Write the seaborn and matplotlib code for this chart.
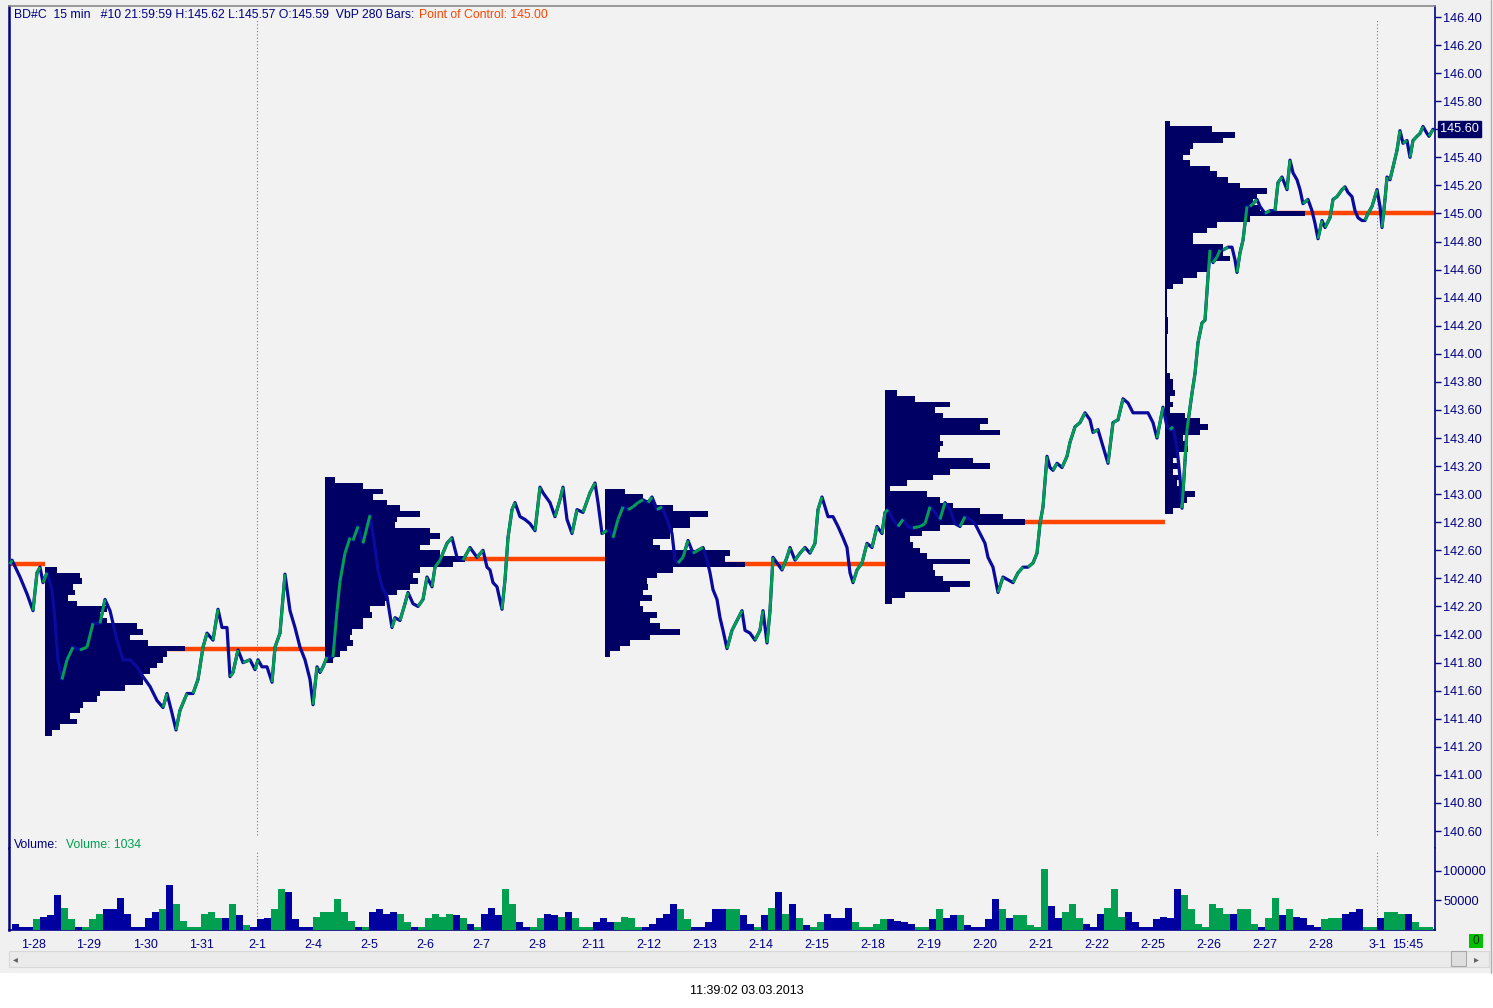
import numpy as np
import matplotlib
matplotlib.use("Agg")
import matplotlib.pyplot as plt
import seaborn as sns
from matplotlib.collections import LineCollection
from matplotlib.patches import Rectangle
import matplotlib.transforms as mtransforms

# ---------------- data ----------------
# time in 15-minute bars since 1-28 session start (56 bars per trading day)
bar_time = [-23,-21,-13,-6,0,4,7,10,14,19,22,25,29,34,40,47,54,60,67,72,77,84,90,97,104,110,117,124,130,134,139,143,147,154,160,165,170,174,180,185,189,194,197,200,205,210,217,222,225,229,234,239,242,247,252,257,262,267,272,277,280,284,287,290,294,300,304,307,312,317,320,325,330,337,342,345,349,354,359,362,367,372,375,380,385,390,394,399,402,407,414,419,424,430,437,444,450,454,457,460,464,469,472,475,479,482,487,492,497,502,507,510,517,522,527,530,534,539,544,550,557,562,565,569,574,577,580,585,590,595,600,605,610,615,619,624,629,634,639,642,645,650,655,660,665,670,674,677,680,684,687,690,694,699,704,709,712,717,722,727,730,734,737,740,744,749,754,757,762,767,772,777,782,785,789,792,795,800,805,810,814,817,820,824,829,834,839,844,849,852,855,860,865,870,875,880,887,892,897,902,907,912,917,922,927,932,937,942,947,952,955,960,965,970,975,980,985,990,995,1000,1004,1007,1010,1014,1017,1020,1024,1029,1034,1037,1042,1047,1052,1057,1060,1065,1070,1075,1080,1085,1090,1095,1100,1105,1110,1115,1120,1124,1130,1134,1137,1140,1144,1147,1149,1152,1154,1159,1162,1165,1169,1172,1175,1177,1180,1184,1187,1190,1195,1199,1202,1204,1207,1210,1214,1217,1220,1224,1227,1232,1237,1242,1245,1249,1254,1257,1260,1264,1267,1270,1275,1279,1282,1285,1289,1292,1297,1300,1304,1309,1312,1315,1319,1322,1325,1329,1332,1335,1339,1342,1344,1347,1349,1352,1354,1357,1360,1364,1367,1370,1374,1377,1380,1384,1387,1390,1394,1396,1400]
price = [142.50,142.53,142.41,142.29,142.17,142.44,142.48,142.37,142.44,142.32,142.10,141.82,141.68,141.82,141.91,141.89,141.91,142.08,142.08,142.25,142.17,141.96,141.82,141.82,141.77,141.70,141.63,141.53,141.48,141.58,141.44,141.32,141.46,141.58,141.58,141.68,141.91,142.01,141.96,142.18,142.05,142.05,141.70,141.73,141.89,141.80,141.82,141.75,141.82,141.77,141.77,141.66,141.91,142.01,142.43,142.17,142.05,141.91,141.82,141.68,141.50,141.77,141.73,141.77,141.84,141.84,142.17,142.38,142.58,142.69,142.67,142.77,142.65,142.85,142.62,142.46,142.34,142.27,142.05,142.12,142.10,142.22,142.30,142.22,142.20,142.25,142.41,142.34,142.48,142.53,142.65,142.69,142.55,142.53,142.62,142.55,142.60,142.48,142.46,142.37,142.34,142.18,142.39,142.69,142.89,142.94,142.84,142.82,142.79,142.74,143.05,143.01,142.94,142.84,142.96,143.05,142.82,142.72,142.89,142.87,143.01,143.08,142.94,142.72,142.74,142.74,142.69,142.82,142.91,142.89,142.91,142.94,142.96,142.94,142.98,142.89,142.91,142.82,142.72,142.53,142.51,142.55,142.67,142.58,142.60,142.62,142.53,142.44,142.32,142.25,142.12,142.03,141.90,142.03,142.10,142.17,142.03,142.01,141.96,142.03,142.17,141.94,142.17,142.55,142.51,142.46,142.55,142.62,142.53,142.58,142.62,142.58,142.65,142.89,142.98,142.91,142.84,142.84,142.77,142.69,142.62,142.44,142.37,142.46,142.51,142.65,142.62,142.77,142.72,142.87,142.89,142.82,142.77,142.82,142.77,142.76,142.77,142.79,142.91,142.87,142.82,142.94,142.89,142.79,142.77,142.84,142.82,142.79,142.72,142.65,142.55,142.48,142.30,142.41,142.39,142.37,142.44,142.48,142.48,142.51,142.58,142.79,142.91,143.27,143.19,143.17,143.22,143.19,143.27,143.37,143.48,143.51,143.58,143.53,143.44,143.46,143.34,143.22,143.51,143.53,143.68,143.65,143.58,143.58,143.58,143.58,143.51,143.40,143.62,143.48,143.46,143.48,143.33,143.12,142.90,143.24,143.46,143.72,143.86,144.08,144.22,144.24,144.55,144.74,144.65,144.69,144.74,144.74,144.76,144.76,144.67,144.58,144.72,144.81,145.05,145.05,145.07,145.10,145.05,145.00,145.02,145.02,145.22,145.26,145.17,145.38,145.29,145.24,145.17,145.07,145.10,145.02,144.93,144.82,144.95,144.90,144.97,145.10,145.12,145.17,145.19,145.15,145.12,145.02,144.97,144.95,144.95,145.00,145.05,145.12,145.17,145.05,144.90,145.10,145.26,145.24,145.33,145.45,145.59,145.50,145.52,145.40,145.52,145.55,145.57,145.62,145.57,145.55,145.60]

day_labels = ['1-28','1-29','1-30','1-31','2-1','2-4','2-5','2-6','2-7','2-8','2-11','2-12',
              '2-13','2-14','2-15','2-18','2-19','2-20','2-21','2-22','2-25','2-26','2-27','2-28','3-1']
month_starts = ['2-1', '3-1']

# volume per 7-bar slot (3 slots before 1-28, then 8 slots per day)
volume = [10000,5000,5000,
    17000,22000,24000,59000,37000,17000,5000,3500,      # 1-28
    17000,25500,34000,34000,54000,25500,5000,3500,      # 1-29
    20000,30500,34000,76000,42500,15000,5000,5000,      # 1-30
    27000,30500,20000,20000,44000,24000,7000,5000,      # 1-31
    18500,20000,34000,68000,64000,17000,5000,5000,      # 2-1
    22000,29000,30500,51000,30500,15000,5000,5000,      # 2-4
    30500,34000,27000,30500,27000,13500,5000,3500,      # 2-5
    20000,25500,22000,27000,24000,20000,8500,3500,      # 2-6
    25500,37000,24000,68000,42500,13500,3500,3500,      # 2-7
    20000,25500,24000,22000,30500,20000,5000,3500,      # 2-8
    13500,20000,13500,13500,22000,20000,3500,3500,      # 2-11
    10000,20000,25500,42500,34000,17000,5000,3500,      # 2-12
    13500,34000,35500,34000,34000,24000,8500,3500,      # 2-13
    24000,37000,64000,27000,42500,20000,7000,5000,      # 2-14
    13500,27000,20000,20000,37000,13500,3500,3500,      # 2-15
    10000,17000,17000,15000,13500,8500,3500,3500,       # 2-18
    17000,34000,20000,24000,24000,7000,3500,3500,       # 2-19
    17000,51000,34000,20000,24000,24000,7000,5000,      # 2-20
    102000,39000,20000,30500,44000,20000,8500,5000,     # 2-21
    27000,37000,68000,22000,30500,13500,5000,3500,      # 2-22
    17000,22000,20000,68000,59000,34000,8500,5000,      # 2-25
    44000,37000,25500,27000,35500,34000,8500,5000,      # 2-26
    20000,54000,24000,34000,22000,20000,7000,3500,      # 2-27
    17000,20000,20000,25500,30500,34000,5000,5000,      # 2-28
    20000,30500,30500,25500,27000,13500,3500,3500]      # 3-1

# weekly volume-by-price profiles (0.04 price bins, listed top -> bottom)
profile_top = [142.46, 143.10, 143.02, 143.72, 145.64]
profile_vol = [
    [12,35,37,28,30,23,32,62,55,62,92,98,85,103,140,122,118,112,105,98,98,80,55,52,38,35,25,32,15,7],
    [10,38,58,48,62,75,95,72,70,105,115,105,95,115,140,128,95,88,93,85,72,62,60,45,47,38,38,27,25,28,22,15,8],
    [20,38,50,68,103,85,85,68,65,48,55,125,120,140,68,52,42,43,38,47,35,38,52,45,55,75,45,25,15,5],
    [12,30,65,50,58,103,95,115,55,58,55,53,88,105,65,48,22,5,42,55,68,95,118,140,55,37,25,28,35,42,85,48,50,58,85,65,20,7],
    [5,47,70,58,28,25,18,25,45,52,63,75,102,92,88,95,140,85,52,42,28,28,58,58,65,45,42,32,18,8,2,
     2,2,2,2,3,3,3,2,2,2,2,2,2,2,
     5,8,8,10,5,8,5,20,35,43,35,18,22,23,12,8,15,8,15,12,18,30,22,15,8],
]
previous_poc = 142.50
last_bar = {'H': 145.62, 'L': 145.57, 'O': 145.59}
last_price = 145.60
last_volume = 1034

# ---------------- style ----------------
BARS_PER_DAY = 56
PERIOD = 280
PERIOD_OFFSET = 12
BIN = 0.04
PROFILE_WIDTH = 140
NAVY = '#000080'
PROF = '#000064'
LINE_BLUE = '#0a0a9c'
GREEN = '#00a050'
ORANGE = '#ff4500'
BG = '#f2f2f2'

sns.set_theme(style='white')
plt.rcParams['font.family'] = ['Liberation Sans', 'DejaVu Sans']

W, H = 1493, 1008
fig = plt.figure(figsize=(W / 100, H / 100), dpi=100, facecolor='#f0f0f0')
fx = lambda px: px / W
fy = lambda py: 1 - py / H

ax = fig.add_axes([fx(9), fy(848), fx(1426), (848 - 6) / H], facecolor=BG)
axv = fig.add_axes([fx(9), fy(929.5), fx(1426), (929.5 - 848) / H], facecolor=BG, sharex=ax)

t = np.array(bar_time, dtype=float)
p = np.array(price)

# POC lines + profiles
ax.plot([-24, PERIOD_OFFSET], [previous_poc] * 2, color=ORANGE, lw=3.2, solid_capstyle='butt', zorder=2)
for i, (top, vols) in enumerate(zip(profile_top, profile_vol)):
    vols = np.array(vols, dtype=float)
    levels = top - BIN * np.arange(len(vols))
    start = PERIOD_OFFSET + PERIOD * i
    end = min(start + PERIOD, 1402)
    poc = levels[np.argmax(vols)]
    ax.plot([start, end], [poc, poc], color=ORANGE, lw=3.2, solid_capstyle='butt', zorder=2)
    ax.barh(levels, vols / vols.max() * PROFILE_WIDTH, left=start, height=BIN,
            color=PROF, edgecolor='none', zorder=3)
poc_last = profile_top[-1] - BIN * int(np.argmax(profile_vol[-1]))

# price line: blue base, green up-moves
sns.lineplot(x=t, y=p, ax=ax, color=LINE_BLUE, lw=2.3, zorder=4, estimator=None, sort=False)
pts = np.column_stack([t, p])
segs = np.stack([pts[:-1], pts[1:]], axis=1)
up = np.diff(p) > 0
ax.add_collection(LineCollection(segs[up], colors=GREEN, linewidths=2.1, zorder=5,
                                 capstyle='butt'))

# volume bars
vol = np.array(volume, dtype=float)
slot_idx = np.arange(len(vol)) - 3
slot_start = slot_idx * 7.0
chg = np.interp(slot_start + 7, t, p) - np.interp(slot_start, t, p)
vcol = [GREEN if c > 0 else '#0000a0' for c in chg]
axv.bar(slot_start + 3.5, vol, width=6.3, color=vcol, edgecolor='none', zorder=3)

# month separators
for m in month_starts:
    xm = day_labels.index(m) * BARS_PER_DAY
    ax.axvline(xm, ymin=0.015, ymax=0.985, color='#7a7a7a', lw=0.8, ls=(0, (1, 2)), zorder=1)
    axv.axvline(xm, ymin=0, ymax=0.95, color='#7a7a7a', lw=0.8, ls=(0, (1, 2)), zorder=1)

# axes limits / ticks
ax.set_xlim(-24, 1402)
ax.set_ylim(146.4 - (848 - 17) / 140.35, 146.4 + 11 / 140.35)
axv.set_ylim(0, 81.5 * 1695)

pticks = np.round(np.arange(140.6, 146.41, 0.2), 2)
ax.yaxis.tick_right()
ax.set_yticks(pticks)
ax.set_yticklabels(['' if abs(v - last_price) < 1e-6 else f'{v:.2f}' for v in pticks])
ax.tick_params(axis='y', direction='out', length=4, width=1, colors=NAVY, labelsize=9.2, pad=2)
ax.tick_params(axis='x', bottom=False, labelbottom=False)
ax.set_xlabel(''); ax.set_ylabel('')

axv.yaxis.tick_right()
axv.set_yticks([50000, 100000])
axv.set_yticklabels(['50000', '100000'])
axv.tick_params(axis='y', direction='out', length=4, width=1, colors=NAVY, labelsize=9.2, pad=2)
xt = [k * BARS_PER_DAY for k in range(len(day_labels))] + [1375]
axv.set_xticks(xt)
axv.set_xticklabels(day_labels + ['15:45'])
axv.tick_params(axis='x', direction='out', length=4, width=1, colors=NAVY, labelsize=9, pad=3)

for a in (ax, axv):
    for s in a.spines.values():
        s.set_color(NAVY)
        s.set_linewidth(1.2)
    a.spines['left'].set_linewidth(1.8)
ax.spines['bottom'].set_visible(False)
ax.spines['top'].set_color('#8a8a8a')
axv.spines['top'].set_visible(False)

# last price marker
trans = mtransforms.blended_transform_factory(ax.transAxes, ax.transData)
ax.text(1.0 + 5 / 1426, last_price, f'{last_price:.2f}', transform=trans, ha='left', va='center',
        color='white', fontsize=9.2, clip_on=False, zorder=10,
        bbox=dict(boxstyle='square,pad=0.15', fc='#000066', ec='#000066'))

# header texts
hdr = (f"BD#C  15 min   #10 21:59:59 H:{last_bar['H']:.2f} L:{last_bar['L']:.2f} "
       f"O:{last_bar['O']:.2f}  VbP {PERIOD} Bars:")
fig.text(fx(14), fy(15), hdr, color=NAVY, fontsize=8.8, va='center', ha='left')
fig.text(fx(419), fy(15), f'Point of Control: {poc_last:.2f}', color=ORANGE, fontsize=8.8,
         va='center', ha='left')
fig.text(fx(14), fy(845), 'Volume:', color=NAVY, fontsize=8.8, va='center', ha='left')
fig.text(fx(66), fy(845), f'Volume: {last_volume}', color=GREEN, fontsize=8.8, va='center', ha='left')

# bottom chrome: green box, scrollbar, window edge, timestamp
def frect(x0, y0, x1, y1, **kw):
    fig.add_artist(Rectangle((fx(x0), fy(y1)), (x1 - x0) / W, (y1 - y0) / H,
                             transform=fig.transFigure, **kw))

frect(1469, 934, 1483, 948, fc='#00c000', ec='none')
fig.text(fx(1476), fy(941), '0', color='#003000', fontsize=8.5, ha='center', va='center')
frect(9, 951, 1489, 967, fc='#ebebeb', ec='#d8d8d8', lw=0.8)
frect(1451, 951, 1466, 966, fc='#dedede', ec='#a8a8a8', lw=0.8)
fig.text(fx(15), fy(959), '◂', color='#606060', fontsize=7, ha='center', va='center')
fig.text(fx(1476), fy(959), '▸', color='#606060', fontsize=7, ha='center', va='center')
frect(0, 973, 1493, 1008, fc='white', ec='none')
fig.add_artist(plt.Line2D([fx(1491), fx(1491)], [fy(0), fy(973)], transform=fig.transFigure,
                          color='#b0b0b0', lw=1))
fig.text(fx(747), fy(991), '11:39:02 03.03.2013', color='black', fontsize=9, ha='center', va='center')

fig.savefig('out.png', dpi=100, facecolor=fig.get_facecolor())
